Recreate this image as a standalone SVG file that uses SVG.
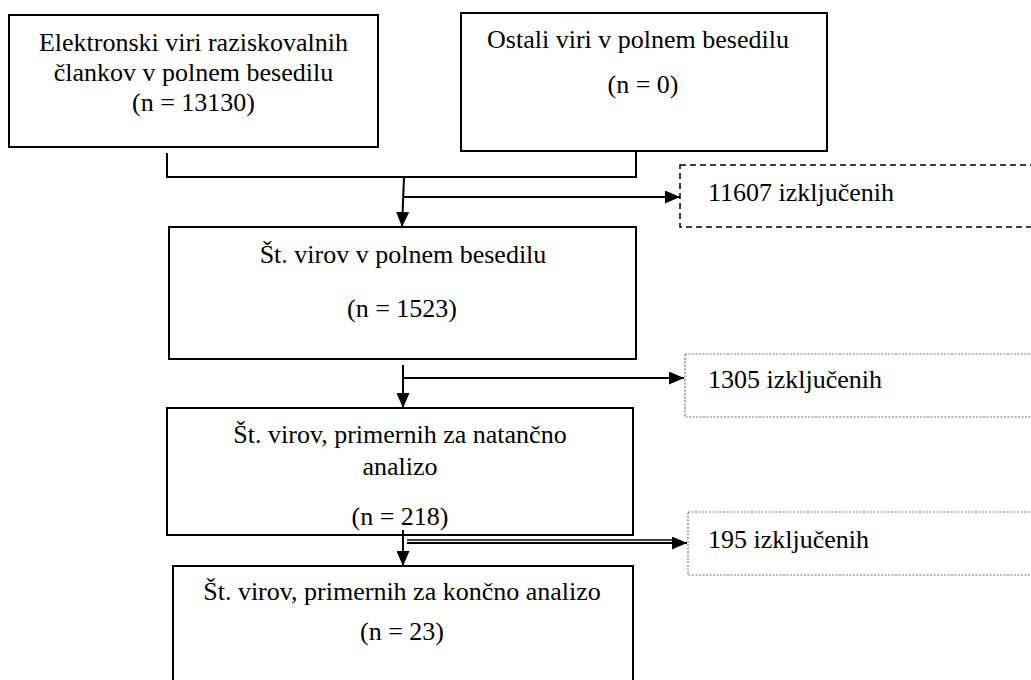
<svg xmlns="http://www.w3.org/2000/svg" width="1031" height="680" viewBox="0 0 1031 680">
<style>
.box{fill:#fff;stroke:#000;stroke-width:2}
.dash{fill:#fff;stroke:#000;stroke-width:1.5;stroke-dasharray:6 4}
.dot{fill:#fff;stroke:#777;stroke-width:1.2;stroke-dasharray:2 1.5}
.t{font-family:"Liberation Serif","Times New Roman",serif;font-size:26px;fill:#000}
.c{text-anchor:middle}
.ln{fill:none;stroke:#000;stroke-width:2}
.thin{fill:none;stroke:#000;stroke-width:1.3}
</style>
<defs>
<marker id="ah" markerUnits="userSpaceOnUse" markerWidth="15" markerHeight="13" refX="15" refY="6.5" orient="auto">
<path d="M0,0 L15,6.5 L0,13 z" fill="#000"/>
</marker>
</defs>
<rect width="1031" height="680" fill="#fff"/>
<g id="n1">
<rect class="box" x="9" y="15" width="369" height="132"/>
<text class="t c" x="193.5" y="51">Elektronski viri raziskovalnih</text>
<text class="t c" x="193.5" y="81">člankov v polnem besedilu</text>
<text class="t c" x="193.5" y="111">(n = 13130)</text>
</g>
<g id="n2">
<rect class="box" x="461" y="13" width="366" height="138"/>
<text class="t c" x="638" y="48">Ostali viri v polnem besedilu</text>
<text class="t c" x="643" y="93">(n = 0)</text>
</g>
<g id="x1">
<rect class="dash" x="680" y="165" width="360" height="62"/>
<text class="t" x="708" y="201">11607 izključenih</text>
</g>
<g id="n3">
<rect class="box" x="169" y="227" width="467" height="132"/>
<text class="t c" x="403" y="263">Št. virov v polnem besedilu</text>
<text class="t c" x="402" y="317">(n = 1523)</text>
</g>
<g id="x2">
<rect class="dot" x="685" y="354" width="360" height="63"/>
<text class="t" x="708" y="388">1305 izključenih</text>
</g>
<g id="n4">
<rect class="box" x="167" y="408" width="466" height="127"/>
<text class="t c" x="400" y="443">Št. virov, primernih za natančno</text>
<text class="t c" x="400" y="475">analizo</text>
<text class="t c" x="400" y="525">(n = 218)</text>
</g>
<g id="x3">
<rect class="dot" x="688" y="512" width="360" height="63"/>
<text class="t" x="708" y="548">195 izključenih</text>
</g>
<g id="n5">
<rect class="box" x="173" y="566" width="460" height="130"/>
<text class="t c" x="402" y="600">Št. virov, primernih za končno analizo</text>
<text class="t c" x="402" y="640">(n = 23)</text>
</g>
<g id="connectors">
<polyline class="ln" points="167,153 167,177 636,177 636,151"/>
<line class="ln" x1="404" y1="177" x2="402" y2="227" marker-end="url(#ah)"/>
<line class="ln" x1="403" y1="197" x2="680" y2="197" marker-end="url(#ah)"/>
<line class="ln" x1="403" y1="365" x2="403" y2="408" marker-end="url(#ah)"/>
<line class="ln" x1="403" y1="378" x2="684" y2="378" marker-end="url(#ah)"/>
<line class="ln" x1="403" y1="530" x2="403" y2="566" marker-end="url(#ah)"/>
<line class="thin" x1="407" y1="540" x2="675" y2="540"/>
<line class="ln" x1="407" y1="543" x2="687" y2="543" marker-end="url(#ah)"/>
</g>
</svg>
